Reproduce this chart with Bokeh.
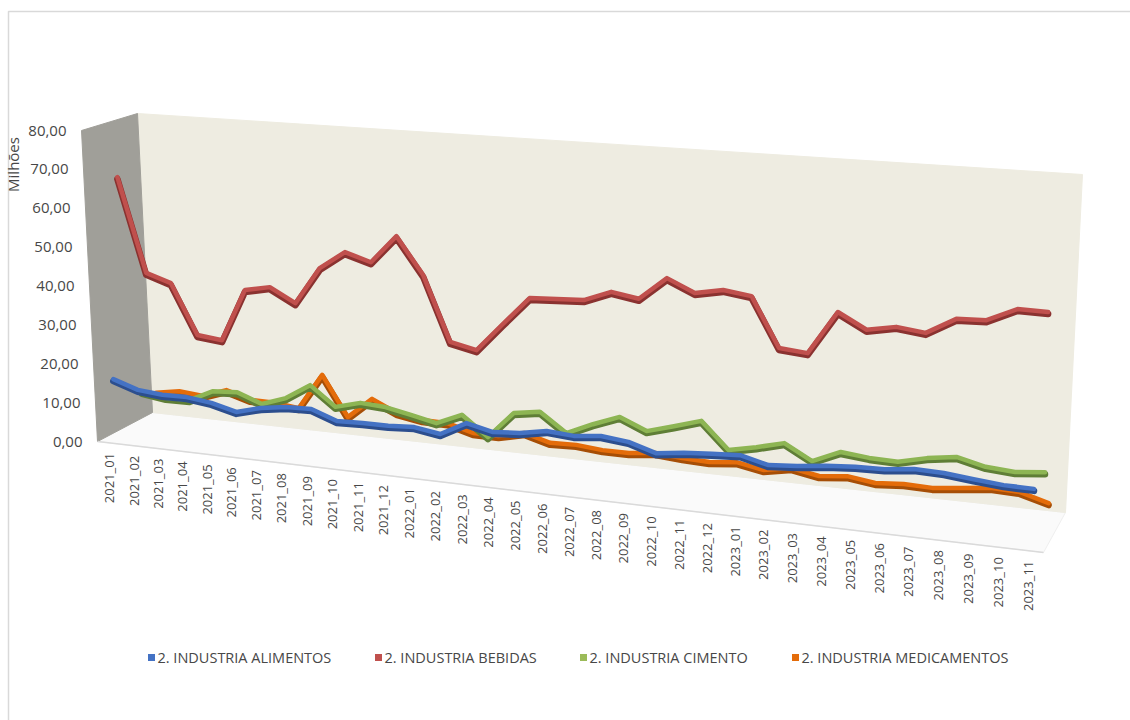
import numpy as np
from bokeh.plotting import figure
from bokeh.models import Range1d
from bokeh.core.properties import value
from bokeh.embed import file_html
from bokeh.resources import INLINE

# ---------------- data (Milhões) ----------------
months = ["2021_01", "2021_02", "2021_03", "2021_04", "2021_05", "2021_06", "2021_07",
          "2021_08", "2021_09", "2021_10", "2021_11", "2021_12", "2022_01", "2022_02",
          "2022_03", "2022_04", "2022_05", "2022_06", "2022_07", "2022_08", "2022_09",
          "2022_10", "2022_11", "2022_12", "2023_01", "2023_02", "2023_03", "2023_04",
          "2023_05", "2023_06", "2023_07", "2023_08", "2023_09", "2023_10", "2023_11"]

alimentos = [15.4, 13.3, 12.7, 12.8, 12.0, 10.4, 12.1, 13.0, 13.2, 10.9, 11.1, 11.1,
             11.5, 10.5, 13.9, 12.4, 12.9, 14.1, 13.6, 14.3, 13.6, 11.6, 12.4, 12.9,
             13.3, 11.7, 12.2, 13.0, 13.5, 13.7, 14.5, 14.3, 13.6, 13.0, 12.9]

bebidas = [66.3, 41.9, 39.8, 27.0, 26.3, 39.8, 41.1, 37.6, 47.1, 51.7, 49.7, 56.8,
           47.6, 31.5, 30.1, 37.2, 44.2, 44.6, 44.9, 47.5, 46.4, 52.0, 49.0, 50.3,
           49.4, 37.6, 37.0, 47.4, 43.8, 45.1, 44.3, 48.2, 48.5, 51.7, 51.6]

cimento = [8.5, 7.6, 7.7, 10.7, 11.1, 8.7, 10.9, 14.9, 10.0, 11.7, 11.3, 10.0,
           8.6, 11.4, 6.5, 13.2, 14.2, 9.6, 12.5, 15.0, 12.2, 14.1, 16.1, 9.7,
           11.1, 12.8, 9.2, 12.1, 11.4, 11.2, 12.8, 13.8, 12.2, 11.7, 12.4]

medicamentos = [6.4, 7.5, 6.9, 9.1, 7.2, 7.1, 6.4, 15.7, 5.4, 10.8, 7.8, 6.7,
                6.6, 4.8, 4.7, 6.2, 4.4, 4.6, 4.0, 4.0, 4.7, 4.2, 3.9, 4.6,
                3.4, 4.6, 3.4, 4.1, 3.2, 3.7, 3.5, 4.2, 5.0, 4.8, 2.9]

series_names = ["2. INDUSTRIA ALIMENTOS", "2. INDUSTRIA BEBIDAS",
                "2. INDUSTRIA CIMENTO", "2. INDUSTRIA MEDICAMENTOS"]
y_ticks = [0, 10, 20, 30, 40, 50, 60, 70, 80]
y_tick_labels = ["0,00", "10,00", "20,00", "30,00", "40,00", "50,00", "60,00", "70,00", "80,00"]

# ---------------- 3-D box geometry (screen pixels) ----------------
W, H = 1130, 720
VMAX = 80.0
N = len(months)
K = 1.13  # perspective growth of category spacing
FBL, BBL = np.array([97.0, 441.0]), np.array([152.0, 412.0])
FBR, BBR = np.array([1043.0, 552.0]), np.array([1065.0, 512.0])
FTL, BTL = np.array([81.0, 130.0]), np.array([137.0, 113.0])
FTR, BTR = np.array([1062.0, 200.0]), np.array([1082.0, 174.0])
TEXT = "#474747"


def lerp(a, b, t):
    return a + (b - a) * t


def persp(i):
    u = (i + 0.5) / N
    return u / (K - (K - 1) * u)


def project(i, v, d):
    t = persp(i)
    f = v / VMAX
    b = lerp(lerp(FBL, FBR, t), lerp(BBL, BBR, t), d)
    tp = lerp(lerp(FTL, FTR, t), lerp(BTL, BTR, t), d)
    q = lerp(b, tp, f)
    return q[0], H - q[1]


def sy(y):
    return H - y


p = figure(width=W, height=H, x_range=Range1d(0, W), y_range=Range1d(0, H),
           x_axis_type=None, y_axis_type=None, toolbar_location=None,
           output_backend="svg", min_border=0, outline_line_color=None,
           background_fill_color="white", border_fill_color="white")
p.grid.visible = False

# outer chart frame
p.line(x=[8, 8, W], y=[0, sy(11), sy(11)], line_color="#D9D9D9", line_width=1.5)


def poly(pts, color, line=None):
    xs = [q[0] for q in pts]
    ys = [sy(q[1]) for q in pts]
    p.patch(xs, ys, fill_color=color, line_color=line if line else color, line_width=1)


# walls and floor
poly([FBL, BBL, BBR, FBR], "#FAFAFA", "#EFEFEF")
poly([BTL, BTR, BBR, BBL], "#EEECE1")
poly([FTL, BTL, BBL, FBL], "#A09F99")
p.line(x=[FBL[0], FBR[0]], y=[sy(FBL[1]), sy(FBR[1])], line_color="#DADADA", line_width=1.5)

# series (back to front)
series = [
    (medicamentos, 0.875, "#E46C0A", "#A64E06"),
    (cimento, 0.625, "#8DB553", "#5F7E36"),
    (bebidas, 0.375, "#C0504D", "#8A3230"),
    (alimentos, 0.125, "#4472C4", "#2C4E8E"),
]
for vals, d, col, dark in series:
    pts = [project(i, v, d) for i, v in enumerate(vals)]
    xs = [q[0] for q in pts]
    ys = [q[1] for q in pts]
    p.line(x=xs, y=[y - 1.5 for y in ys], line_color=dark, line_width=6.5,
           line_join="round", line_cap="round")
    p.line(x=xs, y=[y + 0.5 for y in ys], line_color=col, line_width=4.5,
           line_join="round", line_cap="round")

# value axis labels (front-left edge)
lx, ly = [], []
for v in y_ticks:
    q = lerp(FBL, FTL, v / VMAX)
    lx.append(q[0] - 15)
    ly.append(sy(q[1]))
p.text(x=lx, y=ly, text=y_tick_labels, text_align="right", text_baseline="middle",
       text_font=value("Open Sans"), text_font_size="15px", text_color=TEXT)

# axis title
p.text(x=[12], y=[sy(164)], text=["Milhões"], angle=np.pi / 2, text_align="center",
       text_baseline="middle", text_font=value("Open Sans"), text_font_size="15px",
       text_color=TEXT)

# category labels (front edge)
cx, cy = [], []
for i in range(N):
    q = lerp(FBL, FBR, persp(i))
    cx.append(q[0])
    cy.append(sy(q[1] + 10))
p.text(x=cx, y=cy, text=months, angle=np.pi / 2, text_align="right",
       text_baseline="middle", text_font=value("Open Sans"), text_font_size="13px",
       text_color=TEXT)

# legend
leg_x = [151, 378, 583, 795]
leg_cols = ["#4472C4", "#C0504D", "#9BBB59", "#E46C0A"]
p.rect(x=leg_x, y=[sy(657)] * 4, width=7, height=7, fill_color=leg_cols, line_color=None)
p.text(x=[x + 6 for x in leg_x], y=[sy(657)] * 4, text=series_names, text_align="left",
       text_baseline="middle", text_font=value("Open Sans"), text_font_size="14.5px",
       text_color=TEXT)

open("out.html", "w").write(file_html(p, INLINE))
